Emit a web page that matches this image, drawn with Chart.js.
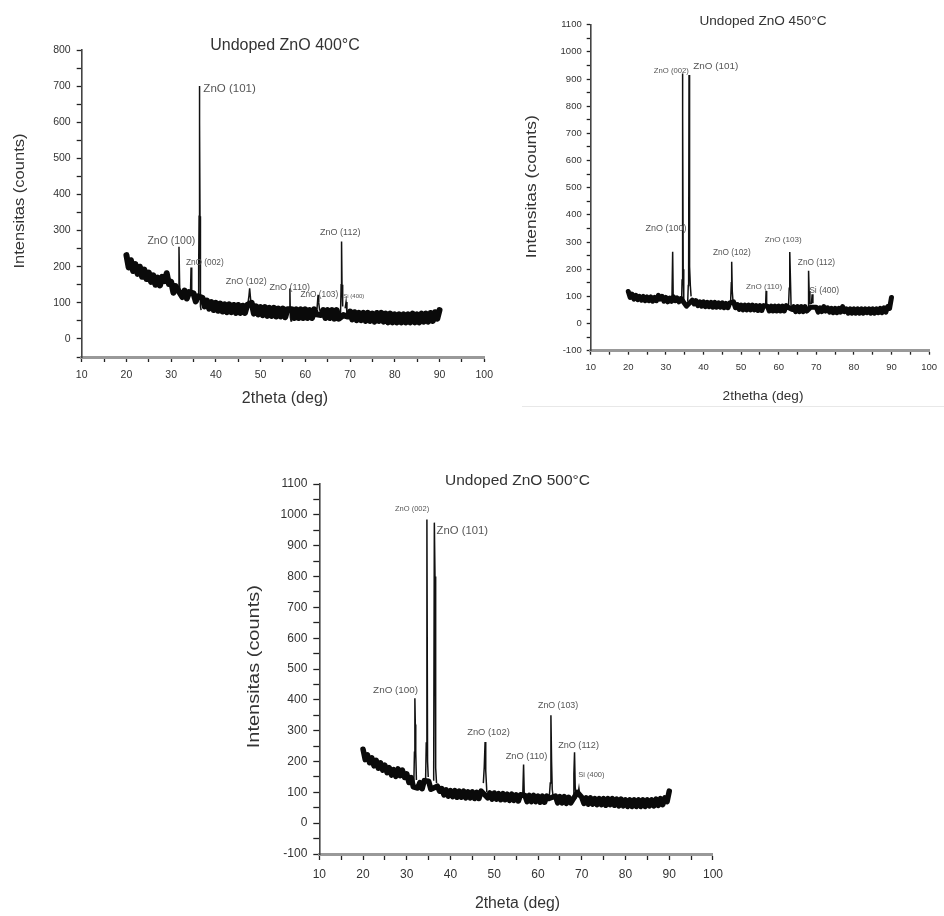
<!DOCTYPE html>
<html><head><meta charset="utf-8">
<script src="https://cdn.jsdelivr.net/npm/chart.js@4.4.0/dist/chart.umd.min.js"></script>
<style>
html,body{margin:0;padding:0;background:#fff;}
body{width:944px;height:916px;position:relative;overflow:hidden;}
canvas{position:absolute;}
#c1{left:0;top:0;width:500px;height:420px;}
#c2{left:500px;top:0;width:444px;height:420px;}
#c3{left:230px;top:455px;width:500px;height:461px;}
.rule{position:absolute;left:522px;top:406px;width:422px;height:1px;background:#e8e8e8;}
</style></head><body>
<canvas id="c1" width="500" height="420"></canvas>
<canvas id="c2" width="444" height="420"></canvas>
<canvas id="c3" width="500" height="461"></canvas>
<div class="rule"></div>
<script>
// ---- data: 2theta grid for the background trace ----
const twoThetaStart = 20, twoThetaStep = 0.5;

// Undoped ZnO 400°C
const background400 = [
232,198,218,188,207,180,200,172,192,166,
184,158,176,150,170,148,172,160,182,152,
158,128,146,122,140,116,134,112,130,114,
126,104,118,100,114,90,106,84,102,80,
100,78,98,76,96,74,96,74,94,72,
94,72,92,72,94,100,100,70,90,68,
88,66,88,64,86,64,86,62,84,62,
84,60,82,60,82,58,82,58,82,58,
82,58,80,58,82,68,98,66,80,58,
80,58,80,56,80,56,80,66,94,62,
76,54,74,52,72,52,72,50,72,50,
70,48,72,50,72,48,70,46,70,46,
68,46,68,46,68,46,68,46,70,46,
68,46,70,48,70,48,72,50,74,56,
80];
const peaks400 = [
 [[31.5,130],[31.6,128],[31.75,255],[31.9,150],[32.0,125]],
 [[34.3,118],[34.45,198],[34.6,120]],
 [[36.05,112],[36.15,200],[36.25,340],[36.3,700],[36.4,600],[36.45,340],[36.55,90],[36.7,80]],
 [[47.1,92],[47.4,120],[47.55,140],[47.8,105]],
 [[56.45,78],[56.55,140],[56.65,60],[56.8,50],[56.9,75]],
 [[62.6,82],[62.85,122],[63.0,100],[63.2,78]],
 [[67.7,60],[67.85,58],[68.0,150],[68.1,270],[68.2,150],[68.35,90]],
 [[68.9,85],[69.1,102],[69.3,72]]
];
const labels400 = [
 ["ZnO (101)",37.2,692],["ZnO (100)",24.7,272],["ZnO (002)",33.3,210],["ZnO (102)",42.2,159],
 ["ZnO (110)",52.0,141],["ZnO (103)",58.9,122],["ZnO (112)",63.3,295],["Si (400)",68.5,117]
];

// Undoped ZnO 450°C
const background450 = [
118,96,108,90,104,88,100,86,100,84,
98,84,98,82,96,84,104,90,100,82,
96,80,94,82,98,84,94,80,92,100,
82,64,100,90,86,72,84,66,80,64,
80,62,78,62,78,60,78,60,76,60,
76,58,74,58,76,90,80,58,70,52,
68,50,68,50,68,50,68,50,66,48,
66,48,66,50,64,46,64,46,64,46,
64,46,64,46,66,60,70,52,62,44,
62,44,62,44,62,46,70,60,90,60,
60,42,58,44,62,46,58,42,56,40,
56,40,56,42,62,44,54,38,54,38,
54,38,54,38,54,38,54,40,54,38,
54,38,54,40,56,40,58,42,62,56,
96];
const peaks450 = [
 [[31.6,80],[31.8,264],[31.95,90]],
 [[34.2,95],[34.3,160],[34.4,920],[34.5,770],[34.6,200],[34.75,90],[35.0,70]],
 [[35.8,80],[35.95,140],[36.05,210],[36.15,915],[36.25,880],[36.35,210],[36.5,140],[36.7,100]],
 [[47.2,75],[47.4,150],[47.5,227],[47.65,120],[47.9,72]],
 [[56.5,58],[56.65,120],[56.8,60]],
 [[62.6,60],[62.8,130],[62.9,200],[63.0,263],[63.15,150],[63.3,62]],
 [[67.8,58],[67.95,194],[68.1,120],[68.3,70]],
 [[68.7,72],[68.9,108],[69.1,75]]
];
const labels450 = [
 ["ZnO (002)",26.8,931],["ZnO (101)",37.3,948],["ZnO (100)",24.6,350],["ZnO (102)",42.5,260],
 ["ZnO (110)",51.3,137],["ZnO (103)",56.3,309],["ZnO (112)",65.1,225],["Si (400)",68.1,120]
];

// Undoped ZnO 500°C
const background500 = [
240,206,222,196,212,186,204,178,196,172,
188,164,180,156,174,152,176,154,172,148,
160,132,148,118,140,114,132,112,138,150,
136,110,136,150,120,104,112,92,108,88,
106,86,106,84,104,84,104,82,102,82,
102,80,100,80,104,130,104,82,98,78,
98,78,96,76,96,76,94,74,94,74,
92,72,92,72,90,70,90,70,90,70,
88,68,88,68,88,80,100,78,88,66,
86,66,86,64,84,66,84,70,100,70,
84,64,82,62,82,62,80,60,80,60,
80,58,80,60,80,58,78,56,78,56,
76,54,76,54,76,54,76,54,76,54,
76,56,76,56,78,58,80,60,82,70,
104];
const peaks500 = [
 [[31.6,125],[31.75,230],[31.85,405],[31.95,320],[32.05,230],[32.2,140]],
 [[34.3,140],[34.45,260],[34.6,985],[34.75,200],[34.9,150]],
 [[36.0,140],[36.15,170],[36.3,975],[36.45,800],[36.6,180],[36.8,130]],
 [[47.5,130],[47.7,180],[47.9,263],[48.05,170],[48.3,100]],
 [[56.5,85],[56.7,190],[56.85,95]],
 [[62.6,90],[62.8,130],[62.95,350],[63.1,200],[63.25,110],[63.5,80]],
 [[68.0,75],[68.2,160],[68.35,230],[68.5,120],[68.7,80]],
 [[69.1,90],[69.35,113],[69.6,82]]
];
const labels500 = [
 ["ZnO (002)",27.3,1018],["ZnO (101)",36.8,949],["ZnO (100)",22.3,431],["ZnO (102)",43.8,296],
 ["ZnO (110)",52.6,217],["ZnO (103)",60.0,382],["ZnO (112)",64.6,252],["Si (400)",69.2,155]
];

const xTickLabels = [10,20,30,40,50,60,70,80,90,100];

// ---- background trace (points inside a peak window dropped) and peak trace ----
function backgroundSeries(bg, peaks){
  const pts = [];
  bg.forEach((v,i)=>{
    const x = twoThetaStart + i*twoThetaStep;
    const inside = peaks.some(g => x >= g[0][0] && x <= g[g.length-1][0]);
    if(!inside) pts.push({x:x, y:v});
  });
  return pts;
}
function peakSeries(peaks){
  const pts = [];
  peaks.forEach(g => {
    g.forEach(p => pts.push({x:p[0], y:p[1]}));
    pts.push({x:g[g.length-1][0]+0.001, y:null});
  });
  return pts;
}

const FONT = '"Liberation Sans", Arial, Helvetica, sans-serif';
function drawText(ctx, text, x, y, size, rot, len, color){
  ctx.save(); ctx.translate(x,y); if(rot) ctx.rotate(rot);
  ctx.font = size+'px '+FONT;
  ctx.fillStyle = color || '#333';
  if(len){ const w = ctx.measureText(text).width; ctx.scale(len/w,1); }
  ctx.textAlign='center'; ctx.textBaseline='middle';
  ctx.fillText(text,0,0); ctx.restore();
}

const textPlugin = {
  id:'xrdText',
  afterDraw(chart, args, o){
    const ctx = chart.ctx, xs = chart.scales.x, ys = chart.scales.y;
    ctx.save();
    ctx.fillStyle = '#555'; ctx.textAlign='left'; ctx.textBaseline='middle';
    o.labels.forEach((l,i)=>{
      ctx.font = o.labelSizes[i]+'px '+FONT;
      ctx.fillText(l[0], xs.getPixelForValue(l[1]), ys.getPixelForValue(l[2]));
    });
    ctx.restore();
    drawText(ctx, o.title, o.titlePos[0], o.titlePos[1], o.titleSize, 0, 0, '#333');
    drawText(ctx, o.xTitle, o.xTitlePos[0], o.xTitlePos[1], o.xTitleSize, 0, 0, '#333');
    drawText(ctx, o.yTitle, o.yTitlePos[0], o.yTitlePos[1], o.yTitleSize, -Math.PI/2, o.yTitleLen, '#333');
  }
};

function makeChart(id, bg, peaks, cfg){
  return new Chart(document.getElementById(id), {
    type:'line',
    data:{ datasets:[
      { data:backgroundSeries(bg, peaks), borderColor:'#0a0a0a', borderWidth:cfg.lw, borderJoinStyle:'round', borderCapStyle:'round',
        pointRadius:0, tension:0, fill:false },
      { data:peakSeries(peaks), borderColor:'#111', borderWidth:1.5, borderJoinStyle:'miter',
        pointRadius:0, tension:0, fill:false, spanGaps:false }
    ]},
    plugins:[textPlugin],
    options:{
      responsive:false, animation:false, events:[],
      layout:{ padding:cfg.padding },
      plugins:{ legend:{display:false}, tooltip:{enabled:false}, title:{display:false},
        xrdText:{ labels:cfg.labels, labelSizes:cfg.labelSizes, title:cfg.title, titlePos:cfg.titlePos, titleSize:cfg.titleSize,
          xTitle:cfg.xTitle, xTitlePos:cfg.xTitlePos, xTitleSize:cfg.xTitleSize,
          yTitle:'Intensitas (counts)', yTitlePos:cfg.yTitlePos, yTitleSize:cfg.yTitleSize, yTitleLen:cfg.yTitleLen } },
      scales:{
        x:{ type:'linear', min:10, max:100, afterFit:s=>{ s.height = cfg.xH; },
          ticks:{ stepSize:5, autoSkip:false, maxRotation:0, padding:cfg.xPad, color:'#333',
            font:{family:FONT, size:cfg.tick}, callback:v=> xTickLabels.includes(v) ? String(v) : '' },
          grid:{ drawOnChartArea:false, drawTicks:true, tickLength:cfg.tl, tickColor:'#222', tickWidth:1.3 },
          border:{ display:true, color:'#999', width:3 } },
        y:{ type:'linear', min:cfg.yMin, max:cfg.yMax, afterFit:s=>{ s.width = cfg.yW; },
          ticks:{ stepSize:50, autoSkip:false, padding:cfg.yPad, color:'#333',
            font:{family:FONT, size:cfg.tick}, callback:v=> (v%100===0) ? String(v) : '' },
          grid:{ drawOnChartArea:false, drawTicks:true, tickLength:cfg.tl, tickColor:'#222', tickWidth:1.3 },
          border:{ display:true, color:'#444', width:1.6 } }
      }
    }
  });
}

makeChart('c1', background400, peaks400, {
  padding:{left:0, top:50, right:13.3, bottom:0}, yW:81.7, xH:63, yMin:-50, yMax:800, lw:6,
  tick:10.5, tl:5, xPad:7, yPad:6,
  labels:labels400, labelSizes:[11.5,10.5,8.3,9,9,8.3,9,6],
  title:'Undoped ZnO 400°C', titlePos:[285,46], titleSize:16,
  xTitle:'2theta (deg)', xTitlePos:[285,399], xTitleSize:16,
  yTitlePos:[20,201], yTitleSize:14.5, yTitleLen:135
});
makeChart('c2', background450, peaks450, {
  padding:{left:0, top:24.7, right:9, bottom:0}, yW:90.7, xH:69.3, yMin:-100, yMax:1100, lw:5,
  tick:9.5, tl:4, xPad:7, yPad:5,
  labels:labels450, labelSizes:[7.7,9.9,9,8.3,8.1,8.1,8.3,8.6],
  title:'Undoped ZnO 450°C', titlePos:[263,21.7], titleSize:13.6,
  xTitle:'2thetha (deg)', xTitlePos:[263,396], xTitleSize:13.6,
  yTitlePos:[31.7,186.7], yTitleSize:14, yTitleLen:143
});
makeChart('c3', background500, peaks500, {
  padding:{left:0, top:29.1, right:16.7, bottom:0}, yW:89.3, xH:62, yMin:-100, yMax:1100, lw:5.5,
  tick:12, tl:6, xPad:7, yPad:6,
  labels:labels500, labelSizes:[7.5,11.3,9.9,9.4,9.3,8.8,9.1,7.5],
  title:'Undoped ZnO 500°C', titlePos:[287.5,25.7], titleSize:15.5,
  xTitle:'2theta (deg)', xTitlePos:[287.5,448.3], xTitleSize:15.8,
  yTitlePos:[25,211.7], yTitleSize:16, yTitleLen:163
});
</script>
</body></html>
